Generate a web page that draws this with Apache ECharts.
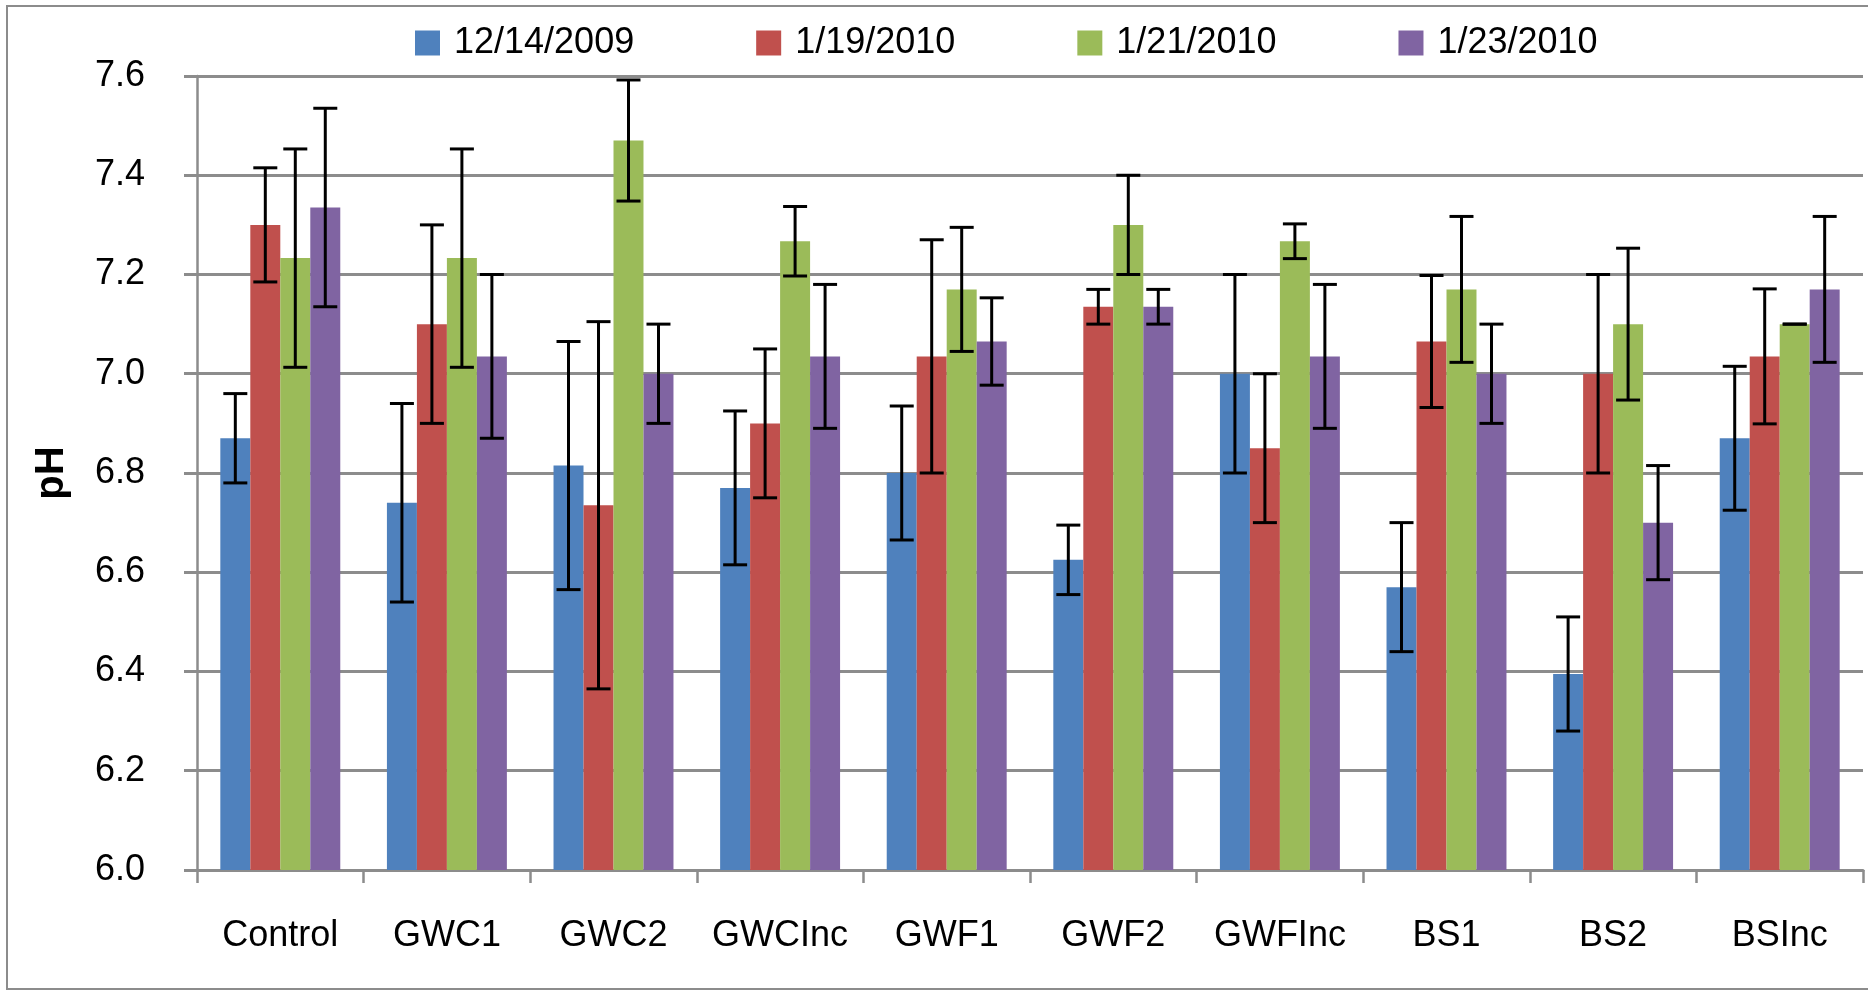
<!DOCTYPE html>
<html>
<head>
<meta charset="utf-8">
<script src="https://cdn.jsdelivr.net/npm/echarts@6/dist/echarts.min.js"></script>
<style>
  html, body { margin: 0; padding: 0; background: #fff; }
  #chart { width: 1868px; height: 992px; }
</style>
</head>
<body>
<div id="chart"></div>
<script>
// categories and series
const categories = ['Control', 'GWC1', 'GWC2', 'GWCInc', 'GWF1', 'GWF2', 'GWFInc', 'BS1', 'BS2', 'BSInc'];
const dates = ['12/14/2009', '1/19/2010', '1/21/2010', '1/23/2010'];

const ph1 = [6.87, 6.74, 6.815, 6.77, 6.80, 6.625, 7.0, 6.57, 6.395, 6.87];
const ph2 = [7.30, 7.10, 6.735, 6.90, 7.035, 7.135, 6.85, 7.065, 7.0, 7.035];
const ph3 = [7.233, 7.233, 7.47, 7.267, 7.17, 7.30, 7.267, 7.17, 7.10, 7.10];
const ph4 = [7.335, 7.035, 7.0, 7.035, 7.065, 7.135, 7.035, 7.0, 6.70, 7.17];

// standard deviations (error bars)
const err1 = [0.09, 0.2, 0.25, 0.155, 0.135, 0.07, 0.2, 0.13, 0.115, 0.145];
const err2 = [0.115, 0.2, 0.37, 0.15, 0.235, 0.035, 0.15, 0.133, 0.2, 0.136];
const err3 = [0.22, 0.22, 0.122, 0.07, 0.125, 0.1, 0.035, 0.147, 0.153, 0];
const err4 = [0.2, 0.165, 0.1, 0.145, 0.088, 0.035, 0.145, 0.1, 0.115, 0.147];

const colors = ['#4F81BD', '#C0504D', '#9BBB59', '#8064A2'];
const values = [ph1, ph2, ph3, ph4];
const errors = [err1, err2, err3, err4];

const font = "'Liberation Sans', Arial, sans-serif";
const gapRatio = 0.28;
const gridColor = '#8c8c8c';

let chart = echarts.init(document.getElementById('chart'));

function errorBar(idx) {
    return function (params, api) {
        let x = api.value(0), v = api.value(1), e = api.value(2);
        let band = api.size([1, 0])[0];
        let bw = band * (1 - gapRatio) / 4;
        let off = (idx - 1.5) * bw;
        let top = api.coord([x, v + e]);
        let bot = api.coord([x, v - e]);
        let cx = top[0] + off;
        let half = 12;
        let style = { stroke: '#000', lineWidth: 3 };
        return {
            type: 'group',
            children: [
                { type: 'line', shape: { x1: cx, y1: top[1], x2: cx, y2: bot[1] }, style: style },
                { type: 'line', shape: { x1: cx - half, y1: top[1], x2: cx + half, y2: top[1] }, style: style },
                { type: 'line', shape: { x1: cx - half, y1: bot[1], x2: cx + half, y2: bot[1] }, style: style }
            ]
        };
    };
}

let series = [];
dates.forEach(function (d, i) {
    series.push({
        name: d,
        type: 'bar',
        data: values[i],
        barGap: 0,
        barCategoryGap: (gapRatio * 100) + '%',
        itemStyle: { color: colors[i] },
        z: 2
    });
});
dates.forEach(function (d, i) {
    series.push({
        name: d + ' err',
        type: 'custom',
        renderItem: errorBar(i),
        encode: { x: 0, y: 1 },
        data: values[i].map(function (v, k) { return [k, v, errors[i][k]]; }),
        z: 5,
        silent: true
    });
});

let option = {
    animation: false,
    backgroundColor: '#fff',
    textStyle: { fontFamily: font },
    graphic: [{
        type: 'rect',
        shape: { x: 7, y: 6, width: 1900, height: 983 },
        style: { fill: 'none', stroke: gridColor, lineWidth: 2 },
        silent: true
    }],
    legend: {
        data: dates,
        left: 410,
        top: 20,
        icon: 'rect',
        itemWidth: 25,
        itemHeight: 25,
        itemGap: 122,
        textStyle: { fontSize: 36, color: '#000', fontFamily: font, padding: [0, 0, 0, 9] }
    },
    grid: {
        left: 197,
        right: 5,
        top: 76,
        bottom: 122,
        containLabel: false
    },
    xAxis: {
        type: 'category',
        data: categories,
        axisLine: { lineStyle: { color: gridColor, width: 3 } },
        axisTick: { show: true, length: 13, lineStyle: { color: gridColor, width: 2.5 } },
        axisLabel: { color: '#000', fontSize: 36, fontFamily: font, margin: 48, interval: 0 }
    },
    yAxis: {
        type: 'value',
        min: 6.0,
        max: 7.6,
        interval: 0.2,
        name: 'pH',
        nameLocation: 'middle',
        nameGap: 125,
        nameTextStyle: { fontSize: 40, fontWeight: 'bold', color: '#000', fontFamily: font },
        axisLine: { show: true, lineStyle: { color: gridColor, width: 2.5 } },
        axisTick: { show: true, length: 13, lineStyle: { color: gridColor, width: 3 } },
        axisLabel: {
            color: '#000',
            fontSize: 36,
            fontFamily: font,
            margin: 52,
            formatter: function (v) { return v.toFixed(1); }
        },
        splitLine: { lineStyle: { color: gridColor, width: 3 } }
    },
    series: series
};

chart.setOption(option);
</script>
</body>
</html>
